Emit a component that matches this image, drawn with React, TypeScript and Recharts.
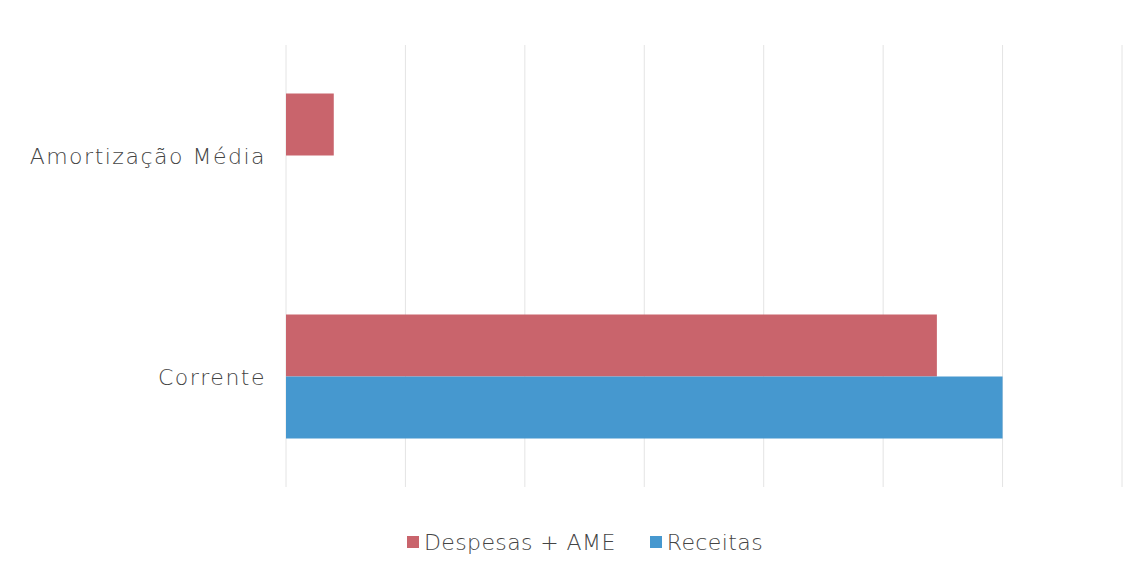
import React from 'react';
import { BarChart, Bar, XAxis, YAxis, CartesianGrid, Legend } from 'recharts';

const categories = ['Amortização Média', 'Corrente'];
const despesas = [0.4, 5.45];
const receitas = [0, 6.0];
const xTicks = [0, 1, 2, 3, 4, 5, 6, 7];

const data = categories.map((c, i) => ({ name: c, despesas: despesas[i], receitas: receitas[i] }));

const RED = '#c9646c';
const BLUE = '#4698cf';
const FONT = '"DejaVu Sans", sans-serif';

const LegendContent = () => (
  <div style={{ display: 'flex', justifyContent: 'center', alignItems: 'center', fontFamily: FONT, fontSize: 22, fontWeight: 200, color: '#444', letterSpacing: 0.4, height: 26, paddingLeft: 48 }}>
    <span style={{ display: 'inline-block', width: 12, height: 12, background: RED, marginRight: 5 }} />
    <span style={{ marginRight: 34 }}>Despesas + AME</span>
    <span style={{ display: 'inline-block', width: 12, height: 12, background: BLUE, marginRight: 5 }} />
    <span>Receitas</span>
  </div>
);

const renderTick = (props: any) => {
  const { x, y, payload } = props;
  return (
    <text x={x} y={y} dy={8} textAnchor="end" fill="#444" fontSize={22} fontWeight={200} fontFamily={FONT} letterSpacing={1.5}>
      {payload.value}
    </text>
  );
};

export default function App() {
  return (
    <div style={{ position: 'absolute', left: 0, top: 0, width: 1146, height: 571, background: '#fff' }}>
      <BarChart
        width={1146}
        height={571}
        data={data}
        layout="vertical"
        margin={{ top: 45, right: 24, bottom: 58, left: 0 }}
        barCategoryGap="22%"
        barGap={0}
      >
        <CartesianGrid horizontal={false} stroke="#e4e4e4" />
        <XAxis type="number" domain={[0, 7]} ticks={xTicks} hide />
        <YAxis
          type="category"
          dataKey="name"
          width={286}
          axisLine={false}
          tickLine={false}
          tickSize={0}
          tickMargin={20}
          tick={renderTick}
        />
        <Legend verticalAlign="bottom" wrapperStyle={{ bottom: 16 }} content={<LegendContent />} />
        <Bar dataKey="despesas" name="Despesas + AME" fill={RED} isAnimationActive={false} />
        <Bar dataKey="receitas" name="Receitas" fill={BLUE} isAnimationActive={false} />
      </BarChart>
    </div>
  );
}
